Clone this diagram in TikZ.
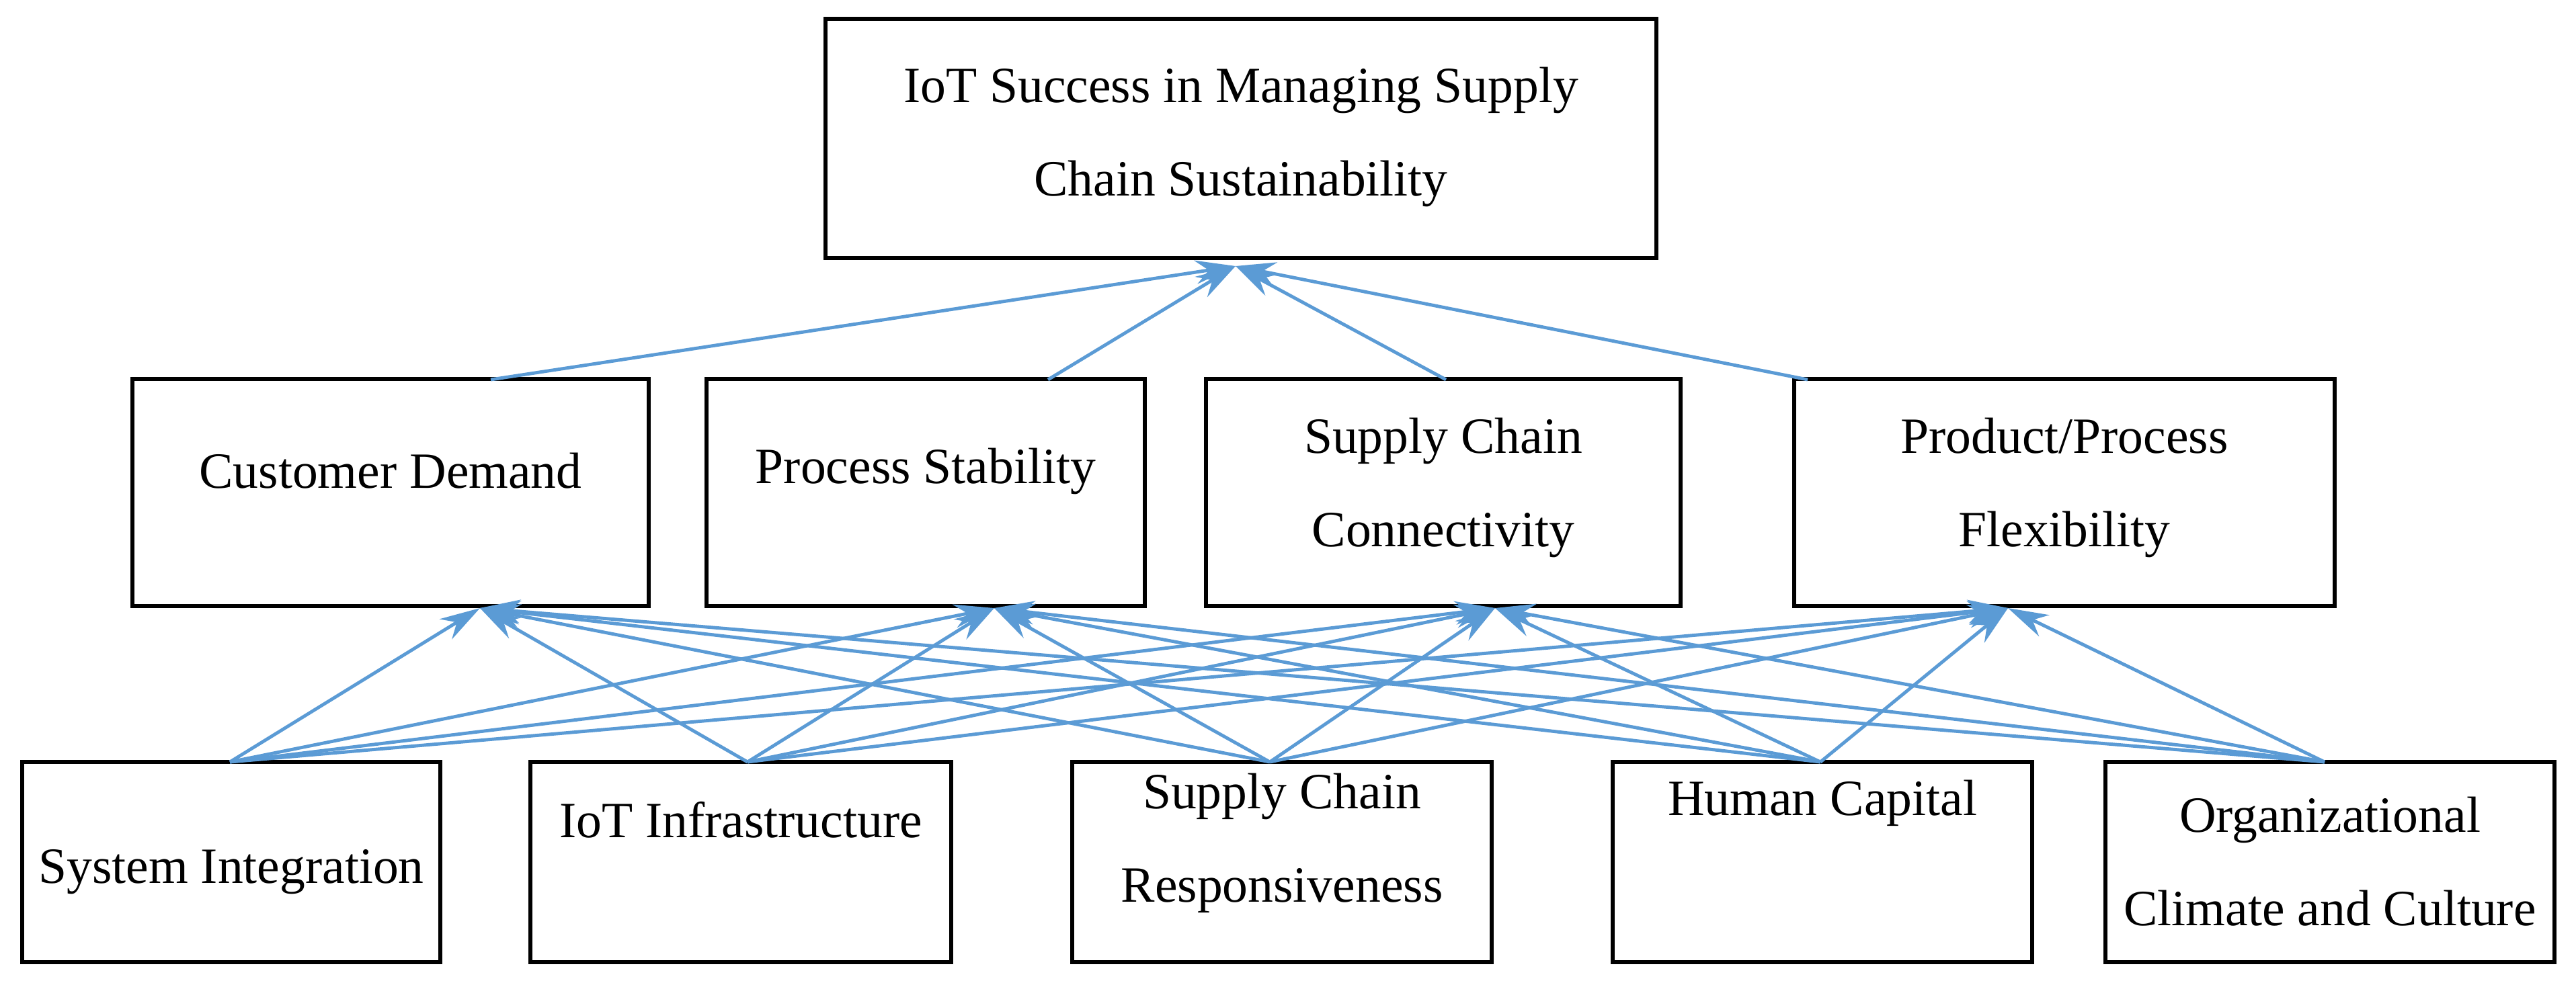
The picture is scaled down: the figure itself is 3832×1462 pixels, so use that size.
\documentclass[tikz,border=0pt]{standalone}
\usepackage{fontspec}
\setmainfont{Liberation Serif}
\usetikzlibrary{arrows.meta}
\definecolor{arr}{RGB}{91,155,213}
\begin{document}
\begin{tikzpicture}[x=0.01cm,y=-0.01cm,
  box/.style={draw,line width=1.7pt,inner sep=0pt},
  txt/.style={align=center,inner sep=0pt,font=\fontsize{21.5}{39.6}\selectfont},
  con/.style={draw=arr,line width=1.4pt,-{Stealth[length=17pt,width=10pt]}}]
\useasboundingbox (0,0) rectangle (3832,1462);
\fill[white] (0,0) rectangle (3832,1462);
% boxes
\node[box,minimum width=12.35cm,minimum height=3.55cm] (top) at (1846,206) {};
\node[box,minimum width=7.67cm,minimum height=3.37cm] (cd) at (581,733) {};
\node[box,minimum width=6.52cm,minimum height=3.37cm] (ps) at (1377,733) {};
\node[box,minimum width=7.06cm,minimum height=3.37cm] (scc) at (2147,733) {};
\node[box,minimum width=8.04cm,minimum height=3.37cm] (ppf) at (3071,733) {};
\node[box,minimum width=6.21cm,minimum height=2.98cm] (si) at (344,1283) {};
\node[box,minimum width=6.26cm,minimum height=2.98cm] (iot) at (1102,1283) {};
\node[box,minimum width=6.23cm,minimum height=2.98cm] (scr) at (1907,1283) {};
\node[box,minimum width=6.23cm,minimum height=2.98cm] (hc) at (2711,1283) {};
\node[box,minimum width=6.67cm,minimum height=2.98cm] (occ) at (3466,1283) {};
% texts
\node[txt] (topL) at (1846,204) {IoT Success in Managing Supply\\Chain Sustainability};
\node[txt] (cdL) at (581,701) {Customer Demand};
\node[txt] (psL) at (1377,701) {Process Stability};
\node[txt] (sccL) at (2147,726) {Supply Chain\\Connectivity};
\node[txt] (ppfL) at (3071,726) {Product/Process\\Flexibility};
\node[txt] (siL) at (344,1298) {System Integration};
\node[txt] (iotL) at (1102,1220) {IoT Infrastructure};
\node[txt] (scrL) at (1907,1255) {Supply Chain\\Responsiveness};
\node[txt] (hcL) at (2711,1195) {Human Capital};
\node[txt] (occL) at (3466,1282) {Organizational\\Climate and Culture};
% tips
\coordinate (tT) at (1838,396);
\coordinate (cdT) at (714,905);
\coordinate (psT) at (1479,905);
\coordinate (sccT) at (2224,905);
\coordinate (ppfT) at (2987,905);
\coordinate (cdS) at (730,565);
\coordinate (psS) at (1559,565);
\coordinate (sccS) at (2151,565);
\coordinate (ppfS) at (2689,565);
\foreach \s in {cdS,psS,sccS,ppfS} \draw[con] (\s) -- (tT);
\coordinate (siS) at (342,1134);
\coordinate (iotS) at (1112,1134);
\coordinate (scrS) at (1889,1134);
\coordinate (hcS) at (2708,1134);
\coordinate (occS) at (3458,1134);
\foreach \s in {siS,iotS,scrS,hcS,occS}
  \foreach \t in {cdT,psT,sccT,ppfT}
    \draw[con] (\s) -- (\t);
\end{tikzpicture}
\end{document}
